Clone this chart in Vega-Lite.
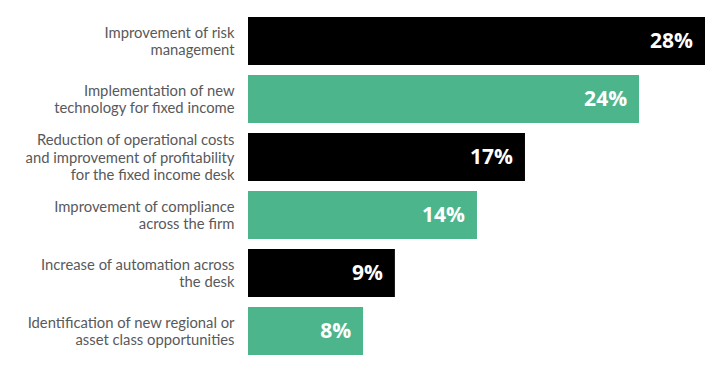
{
  "$schema": "https://vega.github.io/schema/vega-lite/v6.json",
  "width": 457,
  "height": 348,
  "autosize": {"type": "none"},
  "padding": {"left": 248, "top": 12, "right": 8, "bottom": 6},
  "background": "white",
  "config": {"view": {"stroke": null}},
  "data": {
    "values": [
      {"label": "Improvement of risk|management", "value": 28.0, "text": "28%", "group": "a"},
      {"label": "Implementation of new|technology for fixed income", "value": 23.96, "text": "24%", "group": "b"},
      {"label": "Reduction of operational costs|and improvement of profitability|for the fixed income desk", "value": 16.97, "text": "17%", "group": "a"},
      {"label": "Improvement of compliance|across the firm", "value": 14.03, "text": "14%", "group": "b"},
      {"label": "Increase of automation across|the desk", "value": 9.0, "text": "9%", "group": "a"},
      {"label": "Identification of new regional or|asset class opportunities", "value": 7.05, "text": "8%", "group": "b"}
    ]
  },
  "encoding": {
    "y": {
      "field": "label",
      "type": "nominal",
      "sort": null,
      "scale": {"paddingInner": 0.1724, "paddingOuter": 0.0862},
      "axis": {
        "title": null,
        "domain": false,
        "ticks": false,
        "labelPadding": 14,
        "labelExpr": "split(datum.value, '|')",
        "labelFont": "Lato",
        "labelFontSize": 14.8,
        "labelColor": "#58595b",
        "labelBaseline": "middle",
        "labelLineHeight": 17.5,
        "labelOffset": {"expr": "1.5 - (length(split(datum.value, '|')) - 1) * 17.5 / 2"},
        "labelLimit": 260
      }
    },
    "x": {
      "field": "value",
      "type": "quantitative",
      "scale": {"domain": [0, 28], "nice": false},
      "axis": null
    }
  },
  "layer": [
    {
      "mark": {"type": "bar"},
      "encoding": {
        "color": {
          "field": "group",
          "type": "nominal",
          "scale": {"domain": ["a", "b"], "range": ["#000000", "#4db58c"]},
          "legend": null
        }
      }
    },
    {
      "mark": {"type": "text", "align": "right", "baseline": "middle", "dx": -12, "dy": 1, "font": "Open Sans", "fontWeight": "bold", "fontSize": 21, "color": "white"},
      "encoding": {"text": {"field": "text"}}
    }
  ]
}
